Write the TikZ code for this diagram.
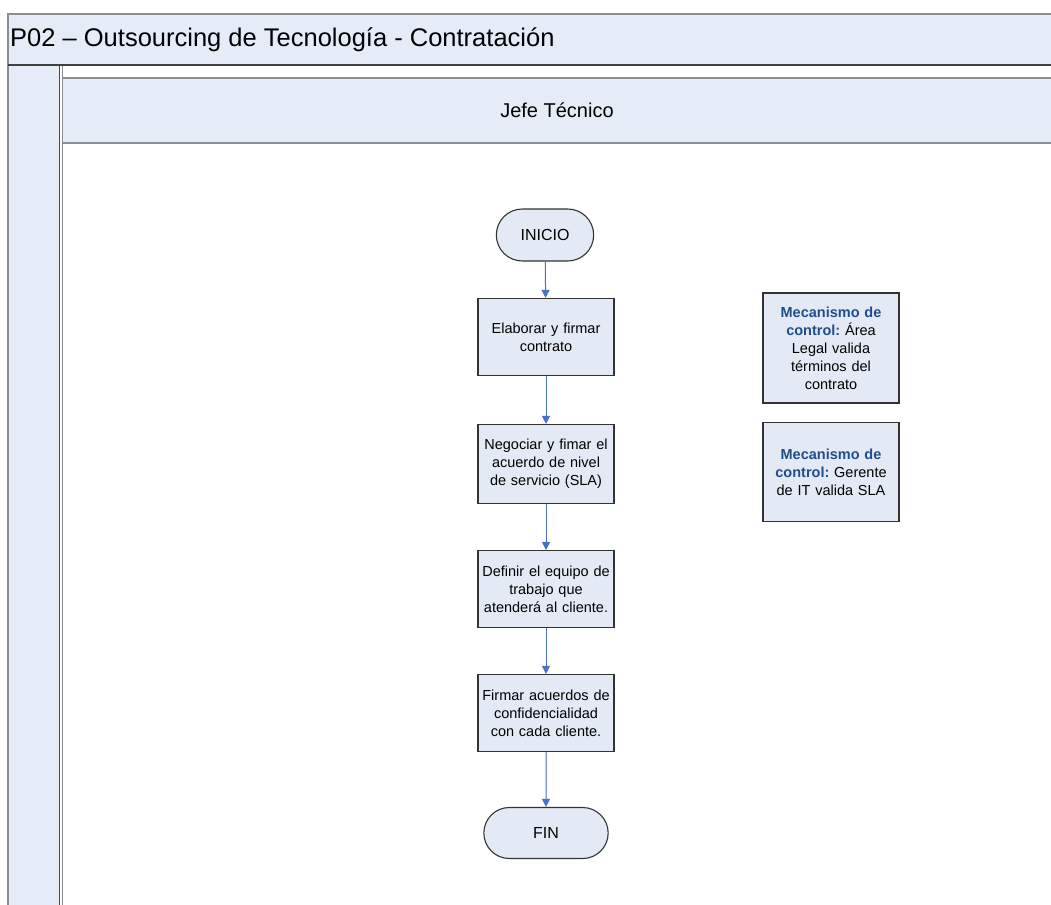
\documentclass[tikz,border=0pt]{standalone}
\usepackage{fontspec}
\setmainfont{Liberation Sans}
\usetikzlibrary{arrows.meta,shapes.misc}
\definecolor{laneblue}{HTML}{E6ECF7}
\definecolor{boxblue}{HTML}{E4EAF5}
\definecolor{flowblue}{HTML}{4A72C4}
\definecolor{ctrlblue}{HTML}{1F4E8C}
\definecolor{edgegray}{HTML}{8A8E94}
\tikzset{
  x=1pt, y=-1pt,
  boxfont/.style={font=\fontsize{14.5}{18}\selectfont\frenchspacing},
  stepbox/.style={draw=black!80, line width=1.1pt, fill=boxblue,
    minimum width=136pt, minimum height=77pt, align=center,
    text width=134pt, boxfont, inner sep=1pt},
  ctrlbox/.style={draw=black!80, line width=1.1pt, fill=boxblue,
    minimum width=136pt, align=center,
    text width=128pt, boxfont, inner sep=1pt},
  terminal/.style={draw=black!80, line width=1.1pt, fill=boxblue,
    rounded rectangle, font=\fontsize{16}{19}\selectfont},
  flow/.style={draw=flowblue, line width=1pt,
    -{Triangle[length=8pt,width=8pt]}}
}
\begin{document}
\begin{tikzpicture}
\useasboundingbox (0,0) rectangle (1051,904);
\fill[white] (0,0) rectangle (1051,904);
% pool header
\fill[laneblue] (8,14) rectangle (1060,64);
\draw[edgegray, line width=1.2pt] (1060,14) -- (8,14) -- (8,910);
\node[anchor=west, font=\fontsize{25.5}{28}\selectfont, inner sep=0pt]
  (pooltitle) at (10,40) {P02 – Outsourcing de Tecnología - Contratación};
% left lane strip
\fill[laneblue] (9,66) rectangle (59,910);
\draw[black!75, line width=2.6pt] (8,65) -- (1060,65);
\draw[black!70, line width=1.4pt] (59.5,66) -- (59.5,910);
\draw[edgegray, line width=1.2pt] (62.5,66) -- (62.5,910);
% lane header
\fill[laneblue] (63,78) rectangle (1060,143);
\draw[edgegray, line width=1.4pt] (63,78) -- (1060,78);
\draw[edgegray, line width=1.4pt] (63,143) -- (1060,143);
\node[font=\fontsize{20}{24}\selectfont] (lane) at (557,110) {Jefe Técnico};
% flow
\node[terminal, minimum width=104pt, minimum height=52pt] (inicio) at (545,235) {INICIO};
\node[stepbox] (s1) at (546,337) {Elaborar y firmar\\contrato};
\node[stepbox, minimum height=79pt] (s2) at (546,464) {Negociar y fimar el\\acuerdo de nivel\\de servicio (SLA)};
\node[stepbox] (s3) at (546,589) {Definir el equipo de\\trabajo que\\atenderá al cliente.};
\node[stepbox] (s4) at (546,713) {Firmar acuerdos de\\confidencialidad\\con cada cliente.};
\node[terminal, minimum width=131pt, minimum height=51pt] (fin) at (546,833) {FIN};
\draw[flow] (inicio) -- (s1);
\draw[flow] (s1) -- (s2);
\draw[flow] (s2) -- (s3);
\draw[flow] (s3) -- (s4);
\draw[flow] (s4) -- (fin);
% control notes
\node[ctrlbox, minimum height=110pt] (c1) at (831,348)
  {{\color{ctrlblue}\bfseries Mecanismo de\\control:} Área\\Legal valida\\términos del\\contrato};
\node[ctrlbox, minimum height=99pt] (c2) at (831,472)
  {{\color{ctrlblue}\bfseries Mecanismo de\\control:} Gerente\\de IT valida SLA};
\end{tikzpicture}
\end{document}
